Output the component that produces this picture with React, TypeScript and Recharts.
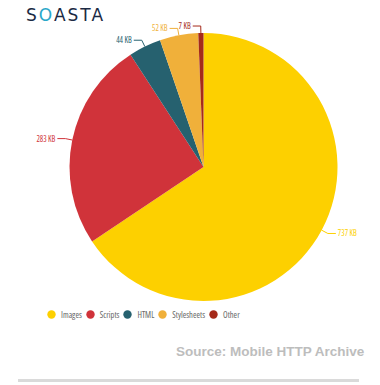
import React from "react";
import { PieChart, Pie, Cell, Legend } from "recharts";

const categories = ["Images", "Scripts", "HTML", "Stylesheets", "Other"];
const sizesKB = [737, 283, 44, 52, 7];
const labels = ["737 KB", "283 KB", "44 KB", "52 KB", "7 KB"];
const colors = ["#FDD000", "#D0333A", "#26616F", "#F0B03A", "#A52A1A"];

const data = categories.map((name, i) => ({ name, value: sizesKB[i], label: labels[i] }));

const RAD = Math.PI / 180;
const FONT = "'Open Sans', 'DejaVu Sans Condensed', sans-serif";

const renderLabel = (props: any) => {
  const { cx, cy, midAngle, outerRadius, index } = props;
  const cos = Math.cos(-midAngle * RAD);
  const sin = Math.sin(-midAngle * RAD);
  const sx = cx + outerRadius * cos;
  const sy = cy + outerRadius * sin;
  const mx = cx + (outerRadius + 7) * cos;
  const my = cy + (outerRadius + 7) * sin;
  const right = cos > 0.3;
  const ex = mx + (right ? 8 : -8);
  const ey = my;
  const col = colors[index];
  return (
    <g>
      <path d={`M${sx},${sy}L${mx},${my}L${ex},${ey}`} stroke={col} fill="none" strokeWidth={1} />
      <text
        x={ex + (right ? 2 : -2)}
        y={ey}
        dy={3}
        textAnchor={right ? "start" : "end"}
        fill={col}
        fontSize={8}
        fontFamily={FONT}
        style={{ fontStretch: "75%" }}
      >
        {data[index].label}
      </text>
    </g>
  );
};

const renderLegend = (props: any) => {
  const payload = [...(props.payload || [])].sort(
    (a: any, b: any) => categories.indexOf(a.value) - categories.indexOf(b.value)
  );
  return (
    <div style={{ display: "flex", alignItems: "center", fontFamily: FONT, fontStretch: "75%", fontSize: 8.5, color: "#666" }}>
      {payload.map((entry: any, i: number) => (
        <div key={i} style={{ display: "flex", alignItems: "center", marginRight: 4 }}>
          <svg width={9} height={9} style={{ marginRight: 5 }}>
            <circle cx={4.5} cy={4.5} r={4.2} fill={entry.color} />
          </svg>
          <span>{entry.value}</span>
        </div>
      ))}
    </div>
  );
};

export default function App() {
  return (
    <div style={{ position: "absolute", left: 0, top: 0, width: 380, height: 385, background: "#fff", overflow: "hidden" }}>
      <div
        style={{
          position: "absolute",
          left: 26,
          top: 5,
          fontFamily: "'DejaVu Sans', sans-serif",
          fontSize: 17,
          letterSpacing: 2,
          color: "#1B2A44",
          fontWeight: 400,
        }}
      >
        S<span style={{ color: "#2AA7C9" }}>O</span>ASTA
      </div>
      <PieChart width={380} height={385} style={{ position: "absolute", left: 0, top: 0 }}>
        <Pie
          data={data}
          dataKey="value"
          nameKey="name"
          cx={198.5}
          cy={162}
          outerRadius={134}
          startAngle={90}
          endAngle={-270}
          stroke="none"
          label={renderLabel}
          labelLine={false}
          isAnimationActive={false}
          legendType="circle"
        >
          {data.map((d, i) => (
            <Cell key={d.name} fill={colors[i]} />
          ))}
        </Pie>
        <Legend content={renderLegend} wrapperStyle={{ position: "absolute", left: 47, top: 309, width: 320 }} />
      </PieChart>
      <div
        style={{
          position: "absolute",
          left: 176,
          top: 344,
          fontFamily: "'Liberation Sans', Arial, sans-serif",
          fontWeight: 700,
          fontSize: 13.5,
          color: "#BDBDBD",
        }}
      >
        Source: Mobile HTTP Archive
      </div>
      <div style={{ position: "absolute", left: 18, top: 379, width: 341, height: 3, background: "#DADADA" }} />
    </div>
  );
}
